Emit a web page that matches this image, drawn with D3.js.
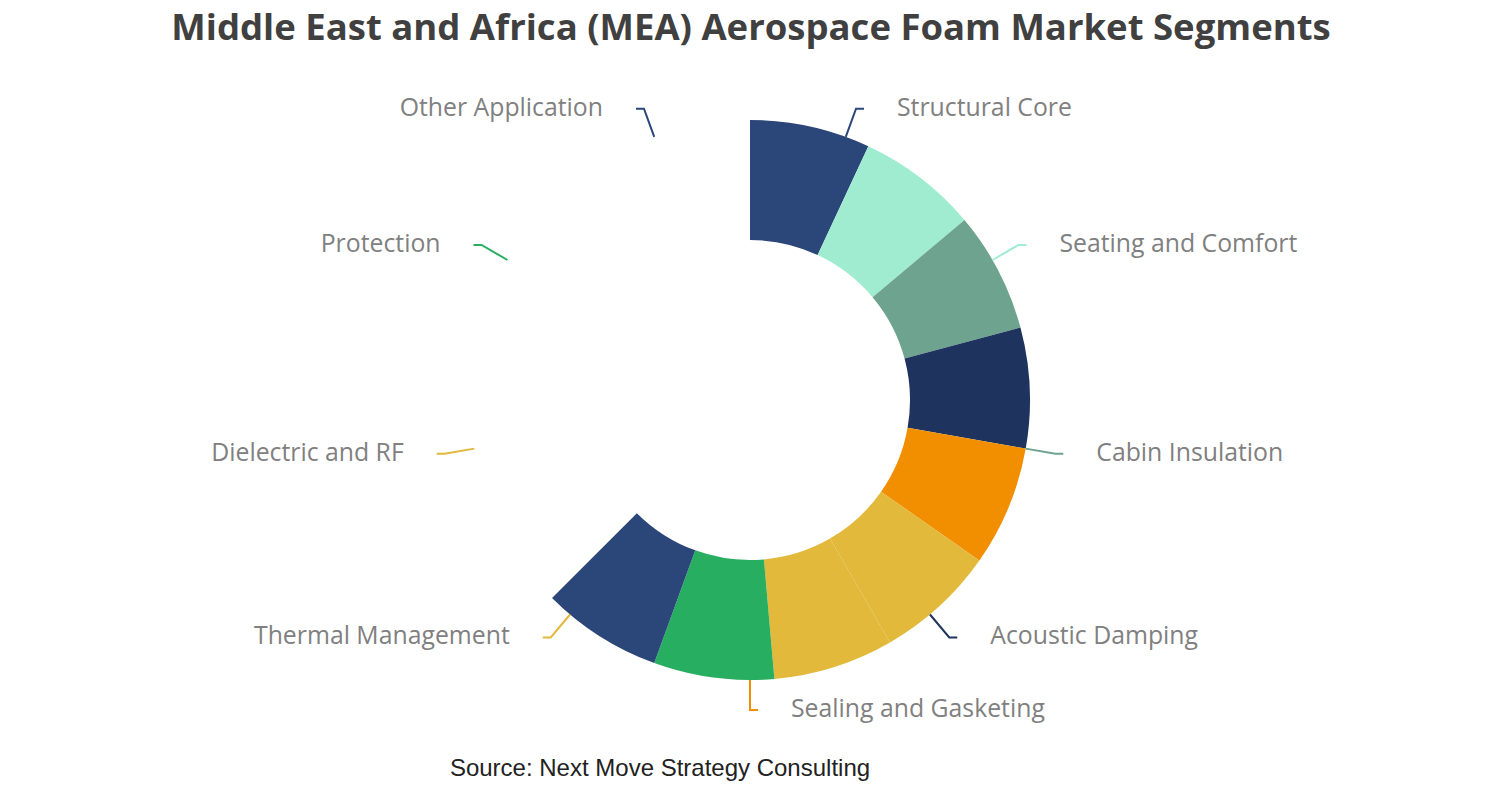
<!DOCTYPE html>
<html>
<head>
<meta charset="utf-8">
<script src="https://d3js.org/d3.v7.min.js"></script>
<style>
  body { margin: 0; background: #fff; }
</style>
</head>
<body>
<script>
// segment names, values and colours
var segments = ["Structural Core", "Seating and Comfort", "Cabin Insulation", "Acoustic Damping",
  "Sealing and Gasketing", "Thermal Management", "Dielectric and RF", "Protection", "Other Application"];
var shares = [1, 1, 1, 1, 1, 1, 1, 1, 1];
var colors = ["#2b4679", "#a0ecd0", "#6ea48f", "#1e345e", "#f28f00", "#e2b93b", "#e2b93b", "#27ae61", "#2b4679"];

var w = 1502, h = 800;
var cx = 750, cy = 400;
var rIn = 160, rOut = 280;
var sweep = 0.625; // the ring is only drawn to 225 degrees in the picture

var svg = d3.select("body").append("svg").attr("width", w).attr("height", h);

svg.append("text")
  .attr("x", 751).attr("y", 26)
  .attr("text-anchor", "middle")
  .attr("dominant-baseline", "central")
  .attr("font-family", "Open Sans")
  .attr("font-weight", "bold")
  .attr("font-size", "36.5px")
  .style("fill", "#404040")
  .text("Middle East and Africa (MEA) Aerospace Foam Market Segments");

var pie = d3.pie().sort(null).value(function(d){ return d; });
var arcs = pie(shares);
var arc = d3.arc().innerRadius(rIn).outerRadius(rOut);

var g = svg.append("g").attr("transform", "translate(" + cx + "," + cy + ")");

g.selectAll("path.slice").data(arcs).enter().append("path")
  .attr("class", "slice")
  .attr("fill", function(d, i){ return colors[i]; })
  .attr("d", function(d){
    return arc({ startAngle: d.startAngle * sweep, endAngle: d.endAngle * sweep });
  });

function pt(a, r){ return [Math.sin(a) * r, -Math.cos(a) * r]; }

var labels = g.selectAll("g.lab").data(arcs).enter().append("g").attr("class", "lab");

labels.append("polyline")
  .attr("fill", "none")
  .attr("stroke-width", 2)
  .attr("stroke", function(d, i){ return colors[i]; })
  .attr("points", function(d){
    var m = (d.startAngle + d.endAngle) / 2;
    var p0 = pt(m, rOut), p1 = pt(m, rOut + 30);
    var side = Math.sin(m) >= 0 ? 1 : -1;
    return [p0, p1, [p1[0] + side * 8, p1[1]]].map(function(p){ return p.join(","); }).join(" ");
  });

labels.append("text")
  .attr("x", function(d){
    var m = (d.startAngle + d.endAngle) / 2;
    var side = Math.sin(m) >= 0 ? 1 : -1;
    return pt(m, rOut + 30)[0] + side * 41;
  })
  .attr("y", function(d){
    var m = (d.startAngle + d.endAngle) / 2;
    return pt(m, rOut + 30)[1] - 3;
  })
  .attr("text-anchor", function(d){
    var m = (d.startAngle + d.endAngle) / 2;
    return Math.sin(m) >= 0 ? "start" : "end";
  })
  .attr("dominant-baseline", "central")
  .attr("font-family", "Open Sans")
  .attr("font-size", "24.8px")
  .style("fill", "#808080")
  .text(function(d, i){ return segments[i]; });

svg.append("text")
  .attr("x", 660).attr("y", 767)
  .attr("text-anchor", "middle")
  .attr("dominant-baseline", "central")
  .attr("font-family", "Liberation Sans")
  .attr("font-size", "24px")
  .style("fill", "#222")
  .text("Source: Next Move Strategy Consulting");
</script>
</body>
</html>
